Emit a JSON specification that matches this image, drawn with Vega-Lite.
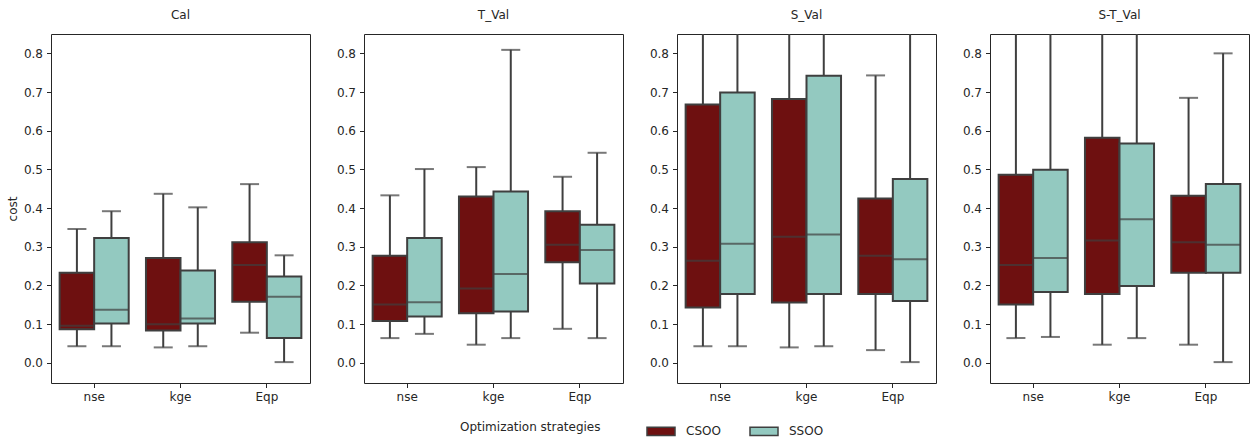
{
  "$schema": "https://vega.github.io/schema/vega-lite/v6.json",
  "padding": {"left": 5, "top": 8, "right": 8, "bottom": 5},
  "spacing": 24,
  "data": {
    "values": [
      {"panel": "Cal", "metric": "nse", "strategy": "CSOO", "lower": 0.043, "q1": 0.087, "median": 0.096, "q3": 0.233, "upper": 0.346},
      {"panel": "Cal", "metric": "nse", "strategy": "SSOO", "lower": 0.043, "q1": 0.102, "median": 0.137, "q3": 0.323, "upper": 0.392},
      {"panel": "Cal", "metric": "kge", "strategy": "CSOO", "lower": 0.040, "q1": 0.084, "median": 0.100, "q3": 0.271, "upper": 0.437},
      {"panel": "Cal", "metric": "kge", "strategy": "SSOO", "lower": 0.043, "q1": 0.102, "median": 0.115, "q3": 0.239, "upper": 0.402},
      {"panel": "Cal", "metric": "Eqp", "strategy": "CSOO", "lower": 0.078, "q1": 0.158, "median": 0.253, "q3": 0.312, "upper": 0.462},
      {"panel": "Cal", "metric": "Eqp", "strategy": "SSOO", "lower": 0.002, "q1": 0.064, "median": 0.171, "q3": 0.223, "upper": 0.278},
      {"panel": "T_Val", "metric": "nse", "strategy": "CSOO", "lower": 0.064, "q1": 0.108, "median": 0.151, "q3": 0.277, "upper": 0.433},
      {"panel": "T_Val", "metric": "nse", "strategy": "SSOO", "lower": 0.075, "q1": 0.120, "median": 0.157, "q3": 0.323, "upper": 0.501},
      {"panel": "T_Val", "metric": "kge", "strategy": "CSOO", "lower": 0.047, "q1": 0.128, "median": 0.192, "q3": 0.430, "upper": 0.506},
      {"panel": "T_Val", "metric": "kge", "strategy": "SSOO", "lower": 0.064, "q1": 0.133, "median": 0.230, "q3": 0.443, "upper": 0.809},
      {"panel": "T_Val", "metric": "Eqp", "strategy": "CSOO", "lower": 0.088, "q1": 0.260, "median": 0.305, "q3": 0.392, "upper": 0.481},
      {"panel": "T_Val", "metric": "Eqp", "strategy": "SSOO", "lower": 0.064, "q1": 0.205, "median": 0.292, "q3": 0.357, "upper": 0.543},
      {"panel": "S_Val", "metric": "nse", "strategy": "CSOO", "lower": 0.043, "q1": 0.143, "median": 0.264, "q3": 0.668, "upper": 1.0},
      {"panel": "S_Val", "metric": "nse", "strategy": "SSOO", "lower": 0.043, "q1": 0.178, "median": 0.308, "q3": 0.699, "upper": 1.0},
      {"panel": "S_Val", "metric": "kge", "strategy": "CSOO", "lower": 0.040, "q1": 0.156, "median": 0.326, "q3": 0.682, "upper": 1.0},
      {"panel": "S_Val", "metric": "kge", "strategy": "SSOO", "lower": 0.043, "q1": 0.178, "median": 0.332, "q3": 0.742, "upper": 1.0},
      {"panel": "S_Val", "metric": "Eqp", "strategy": "CSOO", "lower": 0.033, "q1": 0.178, "median": 0.277, "q3": 0.425, "upper": 0.743},
      {"panel": "S_Val", "metric": "Eqp", "strategy": "SSOO", "lower": 0.002, "q1": 0.160, "median": 0.268, "q3": 0.475, "upper": 1.0},
      {"panel": "S-T_Val", "metric": "nse", "strategy": "CSOO", "lower": 0.064, "q1": 0.151, "median": 0.253, "q3": 0.486, "upper": 1.0},
      {"panel": "S-T_Val", "metric": "nse", "strategy": "SSOO", "lower": 0.067, "q1": 0.183, "median": 0.271, "q3": 0.499, "upper": 1.0},
      {"panel": "S-T_Val", "metric": "kge", "strategy": "CSOO", "lower": 0.047, "q1": 0.178, "median": 0.316, "q3": 0.582, "upper": 1.0},
      {"panel": "S-T_Val", "metric": "kge", "strategy": "SSOO", "lower": 0.064, "q1": 0.199, "median": 0.371, "q3": 0.567, "upper": 1.0},
      {"panel": "S-T_Val", "metric": "Eqp", "strategy": "CSOO", "lower": 0.047, "q1": 0.233, "median": 0.312, "q3": 0.432, "upper": 0.685},
      {"panel": "S-T_Val", "metric": "Eqp", "strategy": "SSOO", "lower": 0.002, "q1": 0.233, "median": 0.305, "q3": 0.462, "upper": 0.800}
    ]
  },
  "config": {
    "font": "DejaVu Sans",
    "view": {"stroke": "#262626", "strokeWidth": 1},
    "axis": {"labelFont": "DejaVu Sans", "labelFontSize": 12, "labelColor": "#262626", "titleFont": "DejaVu Sans", "titleFontSize": 12, "titleColor": "#262626", "titleFontWeight": "normal", "tickColor": "#262626", "tickSize": 4.5, "labelPadding": 4, "grid": false, "domain": false},
    "title": {"font": "DejaVu Sans", "fontSize": 12, "fontWeight": "normal", "color": "#262626", "offset": 12},
    "legend": {"labelFont": "DejaVu Sans", "titleFont": "DejaVu Sans", "labelFontSize": 12, "titleFontSize": 12, "titleFontWeight": "normal", "labelColor": "#262626", "titleColor": "#262626"}
  },
  "hconcat": [
    {
      "title": "Cal", "width": 259, "height": 349,
      "transform": [{"filter": "datum.panel === 'Cal'"}],
      "encoding": {
        "x": {"field": "metric", "type": "nominal", "sort": ["nse", "kge", "Eqp"], "scale": {"paddingInner": 0.2, "paddingOuter": 0.1}, "axis": {"title": null, "labelAngle": 0}},
        "xOffset": {"field": "strategy", "type": "nominal", "sort": ["CSOO", "SSOO"]}
      },
      "layer": [
        {"mark": {"type": "rule", "color": "#3f3f3f", "strokeWidth": 2, "clip": true}, "encoding": {"y": {"field": "lower", "type": "quantitative", "scale": {"domain": [-0.052, 0.85], "nice": false, "zero": false}, "axis": {"title": "cost", "values": [0, 0.1, 0.2, 0.3, 0.4, 0.5, 0.6, 0.7, 0.8], "format": ".1f"}}, "y2": {"field": "upper"}}},
        {"mark": {"type": "bar", "stroke": "#3f3f3f", "strokeWidth": 2, "clip": true}, "encoding": {"y": {"field": "q1", "type": "quantitative", "axis": {"title": "cost"}}, "y2": {"field": "q3"}, "color": {"field": "strategy", "type": "nominal", "scale": {"domain": ["CSOO", "SSOO"], "range": ["#6e1010", "#93c9c0"]}, "legend": {"orient": "none", "legendX": 409, "legendY": 382, "direction": "horizontal", "titleOrient": "left", "titleBaseline": "middle", "titleAnchor": "middle", "title": "Optimization strategies", "symbolType": "M-1,-0.3H1V0.3H-1Z", "symbolSize": 784, "symbolStrokeColor": "#3f3f3f", "symbolStrokeWidth": 1.5, "symbolOpacity": 1, "titlePadding": 45, "columnPadding": 26, "labelOffset": 10}}}},
        {"mark": {"type": "tick", "color": "#3f3f3f", "thickness": 2, "size": 34, "clip": true}, "encoding": {"y": {"field": "median", "type": "quantitative", "axis": {"title": "cost"}}}},
        {"mark": {"type": "tick", "color": "#3f3f3f", "thickness": 2, "size": 19, "clip": true}, "encoding": {"y": {"field": "lower", "type": "quantitative", "axis": {"title": "cost"}}}},
        {"mark": {"type": "tick", "color": "#3f3f3f", "thickness": 2, "size": 19, "clip": true}, "encoding": {"y": {"field": "upper", "type": "quantitative", "axis": {"title": "cost"}}}}
      ]
    },
    {
      "title": "T_Val", "width": 259, "height": 349,
      "transform": [{"filter": "datum.panel === 'T_Val'"}],
      "encoding": {
        "x": {"field": "metric", "type": "nominal", "sort": ["nse", "kge", "Eqp"], "scale": {"paddingInner": 0.2, "paddingOuter": 0.1}, "axis": {"title": null, "labelAngle": 0}},
        "xOffset": {"field": "strategy", "type": "nominal", "sort": ["CSOO", "SSOO"]}
      },
      "layer": [
        {"mark": {"type": "rule", "color": "#3f3f3f", "strokeWidth": 2, "clip": true}, "encoding": {"y": {"field": "lower", "type": "quantitative", "scale": {"domain": [-0.052, 0.85], "nice": false, "zero": false}, "axis": {"title": null, "values": [0, 0.1, 0.2, 0.3, 0.4, 0.5, 0.6, 0.7, 0.8], "format": ".1f"}}, "y2": {"field": "upper"}}},
        {"mark": {"type": "bar", "stroke": "#3f3f3f", "strokeWidth": 2, "clip": true}, "encoding": {"y": {"field": "q1", "type": "quantitative", "axis": {"title": null}}, "y2": {"field": "q3"}, "color": {"field": "strategy", "type": "nominal"}}},
        {"mark": {"type": "tick", "color": "#3f3f3f", "thickness": 2, "size": 34, "clip": true}, "encoding": {"y": {"field": "median", "type": "quantitative", "axis": {"title": null}}}},
        {"mark": {"type": "tick", "color": "#3f3f3f", "thickness": 2, "size": 19, "clip": true}, "encoding": {"y": {"field": "lower", "type": "quantitative", "axis": {"title": null}}}},
        {"mark": {"type": "tick", "color": "#3f3f3f", "thickness": 2, "size": 19, "clip": true}, "encoding": {"y": {"field": "upper", "type": "quantitative", "axis": {"title": null}}}}
      ]
    },
    {
      "title": "S_Val", "width": 259, "height": 349,
      "transform": [{"filter": "datum.panel === 'S_Val'"}],
      "encoding": {
        "x": {"field": "metric", "type": "nominal", "sort": ["nse", "kge", "Eqp"], "scale": {"paddingInner": 0.2, "paddingOuter": 0.1}, "axis": {"title": null, "labelAngle": 0}},
        "xOffset": {"field": "strategy", "type": "nominal", "sort": ["CSOO", "SSOO"]}
      },
      "layer": [
        {"mark": {"type": "rule", "color": "#3f3f3f", "strokeWidth": 2, "clip": true}, "encoding": {"y": {"field": "lower", "type": "quantitative", "scale": {"domain": [-0.052, 0.85], "nice": false, "zero": false}, "axis": {"title": null, "values": [0, 0.1, 0.2, 0.3, 0.4, 0.5, 0.6, 0.7, 0.8], "format": ".1f"}}, "y2": {"field": "upper"}}},
        {"mark": {"type": "bar", "stroke": "#3f3f3f", "strokeWidth": 2, "clip": true}, "encoding": {"y": {"field": "q1", "type": "quantitative", "axis": {"title": null}}, "y2": {"field": "q3"}, "color": {"field": "strategy", "type": "nominal"}}},
        {"mark": {"type": "tick", "color": "#3f3f3f", "thickness": 2, "size": 34, "clip": true}, "encoding": {"y": {"field": "median", "type": "quantitative", "axis": {"title": null}}}},
        {"mark": {"type": "tick", "color": "#3f3f3f", "thickness": 2, "size": 19, "clip": true}, "encoding": {"y": {"field": "lower", "type": "quantitative", "axis": {"title": null}}}},
        {"mark": {"type": "tick", "color": "#3f3f3f", "thickness": 2, "size": 19, "clip": true}, "encoding": {"y": {"field": "upper", "type": "quantitative", "axis": {"title": null}}}}
      ]
    },
    {
      "title": "S-T_Val", "width": 259, "height": 349,
      "transform": [{"filter": "datum.panel === 'S-T_Val'"}],
      "encoding": {
        "x": {"field": "metric", "type": "nominal", "sort": ["nse", "kge", "Eqp"], "scale": {"paddingInner": 0.2, "paddingOuter": 0.1}, "axis": {"title": null, "labelAngle": 0}},
        "xOffset": {"field": "strategy", "type": "nominal", "sort": ["CSOO", "SSOO"]}
      },
      "layer": [
        {"mark": {"type": "rule", "color": "#3f3f3f", "strokeWidth": 2, "clip": true}, "encoding": {"y": {"field": "lower", "type": "quantitative", "scale": {"domain": [-0.052, 0.85], "nice": false, "zero": false}, "axis": {"title": null, "values": [0, 0.1, 0.2, 0.3, 0.4, 0.5, 0.6, 0.7, 0.8], "format": ".1f"}}, "y2": {"field": "upper"}}},
        {"mark": {"type": "bar", "stroke": "#3f3f3f", "strokeWidth": 2, "clip": true}, "encoding": {"y": {"field": "q1", "type": "quantitative", "axis": {"title": null}}, "y2": {"field": "q3"}, "color": {"field": "strategy", "type": "nominal"}}},
        {"mark": {"type": "tick", "color": "#3f3f3f", "thickness": 2, "size": 34, "clip": true}, "encoding": {"y": {"field": "median", "type": "quantitative", "axis": {"title": null}}}},
        {"mark": {"type": "tick", "color": "#3f3f3f", "thickness": 2, "size": 19, "clip": true}, "encoding": {"y": {"field": "lower", "type": "quantitative", "axis": {"title": null}}}},
        {"mark": {"type": "tick", "color": "#3f3f3f", "thickness": 2, "size": 19, "clip": true}, "encoding": {"y": {"field": "upper", "type": "quantitative", "axis": {"title": null}}}}
      ]
    }
  ]
}
